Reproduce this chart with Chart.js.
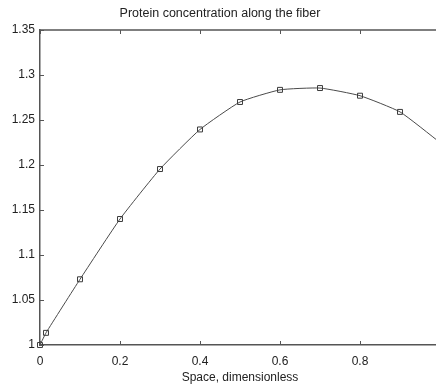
<!DOCTYPE html>
<html>
<head>
<meta charset="utf-8">
<script src="https://cdn.jsdelivr.net/npm/chart.js@4"></script>
<style>
  html, body { margin:0; padding:0; background:#fff; overflow:hidden; }
  #wrap { width:480px; height:387px; }
</style>
</head>
<body>
<div id="wrap"><canvas id="proteinChart" width="480" height="387"></canvas></div>
<script>
const xPos = [0, 0.015, 0.1, 0.2, 0.3, 0.4, 0.5, 0.6, 0.7, 0.8, 0.9, 1.0];
const conc = [1.0, 1.0135, 1.073, 1.140, 1.1955, 1.2395, 1.270, 1.2835, 1.2855, 1.277, 1.259, 1.225];
const showMarker = [1, 1, 1, 1, 1, 1, 1, 1, 1, 1, 1, 0];
const xTicks = [0, 0.2, 0.4, 0.6, 0.8, 1];
const yTicks = [1, 1.05, 1.1, 1.15, 1.2, 1.25, 1.3, 1.35];

const axisColor = '#555';
const textColor = '#222';
const fontFam = '"Liberation Sans", Arial, sans-serif';

// matlab style box: inward ticks on all four sides plus top/right edges
const boxTicks = {
  id: 'boxTicks',
  afterDatasetsDraw(chart){
    const {ctx, chartArea:a, scales} = chart;
    const len = 4;
    ctx.save();
    ctx.strokeStyle = axisColor;
    ctx.lineWidth = 1.5;
    ctx.beginPath();
    ctx.moveTo(a.left, a.top); ctx.lineTo(a.right, a.top);
    ctx.lineTo(a.right, a.bottom);
    ctx.stroke();
    ctx.lineWidth = 1;
    ctx.beginPath();
    for(const v of xTicks){
      const px = Math.round(scales.x.getPixelForValue(v)) + 0.5;
      ctx.moveTo(px, a.bottom); ctx.lineTo(px, a.bottom - len);
      ctx.moveTo(px, a.top); ctx.lineTo(px, a.top + len);
    }
    for(const v of yTicks){
      const py = Math.round(scales.y.getPixelForValue(v)) + 0.5;
      ctx.moveTo(a.left, py); ctx.lineTo(a.left + len, py);
      ctx.moveTo(a.right, py); ctx.lineTo(a.right - len, py);
    }
    ctx.stroke();
    ctx.restore();
  }
};

new Chart(document.getElementById('proteinChart').getContext('2d'), {
  type: 'line',
  data: {
    datasets: [{
      data: xPos.map((x, i) => ({x, y: conc[i]})),
      borderColor: '#4a4a4a',
      borderWidth: 1,
      tension: 0.15,
      pointStyle: 'rect',
      pointRadius: showMarker.map(m => m ? 3.5 : 0),
      pointBorderColor: '#3a3a3a',
      pointBorderWidth: 1,
      pointBackgroundColor: 'rgba(255,255,255,0)',
      clip: false
    }]
  },
  options: {
    responsive: false,
    animation: false,
    layout: { padding: { left: 0, right: 40, top: 0, bottom: 0 } },
    plugins: {
      legend: { display: false },
      tooltip: { enabled: false },
      title: {
        display: true,
        text: 'Protein concentration along the fiber',
        color: textColor,
        font: { family: fontFam, size: 12.5, weight: 'normal' },
        padding: { top: 6, bottom: 9 }
      }
    },
    scales: {
      x: {
        type: 'linear',
        min: 0, max: 1,
        afterBuildTicks: s => { s.ticks = xTicks.map(v => ({value: v})); },
        afterFit: s => { s.height = 42; },
        ticks: {
          color: textColor,
          font: { family: fontFam, size: 12 },
          padding: 9,
          maxRotation: 0,
          callback: v => String(v)
        },
        grid: { display: false, drawTicks: false },
        border: { display: true, color: axisColor, width: 1.5 },
        title: {
          display: true,
          text: 'Space, dimensionless',
          color: textColor,
          font: { family: fontFam, size: 12 },
          padding: { top: 2, bottom: 2 }
        }
      },
      y: {
        min: 1, max: 1.35,
        afterBuildTicks: s => { s.ticks = yTicks.map(v => ({value: v})); },
        afterFit: s => { s.width = 40; },
        ticks: {
          color: textColor,
          font: { family: fontFam, size: 12 },
          padding: 5,
          callback: v => String(+v.toFixed(2))
        },
        grid: { display: false, drawTicks: false },
        border: { display: true, color: axisColor, width: 1.5 }
      }
    }
  },
  plugins: [boxTicks]
});
</script>
</body>
</html>
